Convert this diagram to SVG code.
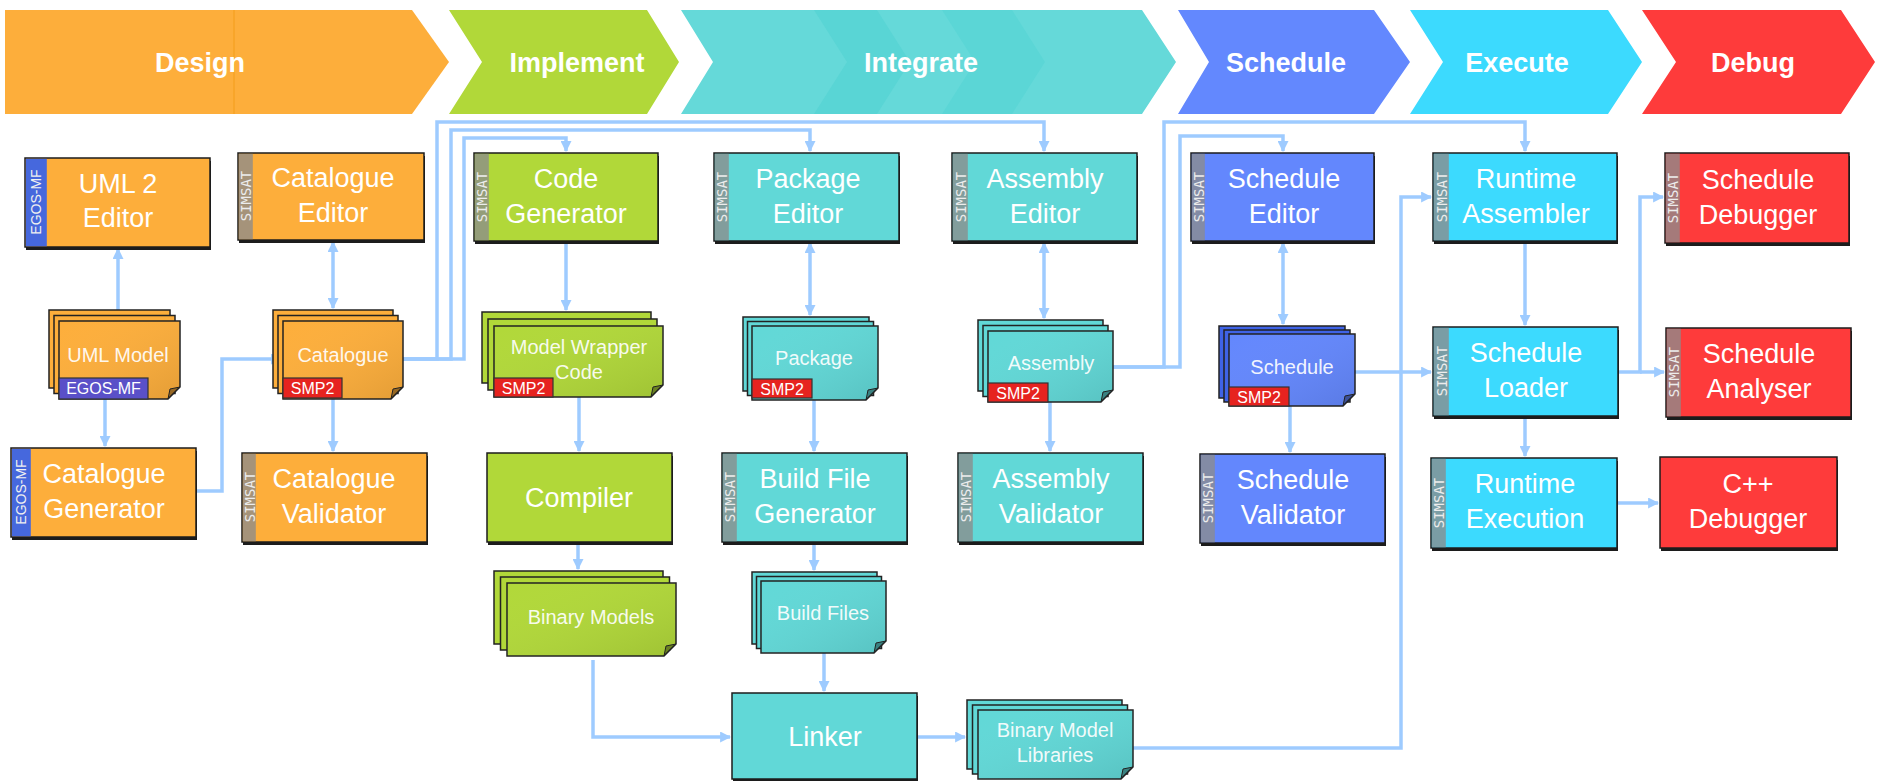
<svg xmlns="http://www.w3.org/2000/svg" width="1878" height="781" viewBox="0 0 1878 781">
<style>
.ph{font-family:"Liberation Sans",Arial,sans-serif;font-weight:bold;font-size:27px;fill:#fff;text-anchor:middle}
.box{stroke:#1c1c1c;stroke-width:1.5}
.sh{fill:#1c1c1c}
.or{fill:#FDAE3B}.li{fill:#B1D839}.te{fill:#61D8D7}.bl{fill:#6387FD}.bld{fill:#3F63E6}.cy{fill:#3CDAFE}.rd{fill:#FE3B3B}
.band{fill:#8c8c8c;fill-opacity:.78}
.egos{fill:#4668DD}
.bt{font-family:"DejaVu Sans Mono","Liberation Mono",monospace;font-size:14px;fill:#ececec;text-anchor:middle;dominant-baseline:central}
.et{font-family:"Liberation Sans",Arial,sans-serif;font-size:14px;fill:#f0f0f0;text-anchor:middle;dominant-baseline:central}
.lbl{font-family:"Liberation Sans",Arial,sans-serif;font-size:27px;fill:#fff;text-anchor:middle}
.dl{font-family:"Liberation Sans",Arial,sans-serif;font-size:20px;fill:#fff;fill-opacity:.93;text-anchor:middle}
.pg{stroke:#222;stroke-width:1.5}
.fold{fill:#000;fill-opacity:.35;stroke:#222;stroke-width:1}
.shade{fill:url(#pgGrad)}
.smp{fill:#E6231F;stroke:#333;stroke-width:1.2}
.egt{fill:#5A50C8;stroke:#333;stroke-width:1.2}
.tg{font-family:"Liberation Sans",Arial,sans-serif;font-size:16px;fill:#fff;text-anchor:middle}
.cn{fill:none;stroke:#9ECBFF;stroke-width:3.5}
</style>
<defs>
<marker id="ah" viewBox="0 0 10 10" refX="9" refY="5" markerUnits="userSpaceOnUse" markerWidth="11" markerHeight="11" orient="auto-start-reverse">
<path d="M0,0 L10,5 L0,10 z" fill="#9ECBFF"/>
</marker>
<linearGradient id="pgGrad" x1="0" y1="0" x2="1" y2="1">
<stop offset="0" stop-color="#fff" stop-opacity="0"/>
<stop offset="1" stop-color="#000" stop-opacity="0.10"/>
</linearGradient>
</defs>

<g id="phases">
<g id="phase-design">
<polygon points="5,10 412,10 449,62 412,114 5,114" fill="#FDAE3B"/>
<line x1="234" y1="10" x2="234" y2="114" stroke="#F5A021" stroke-width="1.2"/>
<text class="ph" x="200" y="72">Design</text>
</g>
<g id="phase-implement">
<polygon points="449,10 647,10 679,62 647,114 449,114 482,62" fill="#B1D839"/>
<text class="ph" x="577" y="72">Implement</text>
</g>
<g id="phase-integrate">
<polygon points="681,10 1142,10 1176,62 1142,114 681,114 713,62" fill="#65D9D9"/>
<polygon points="814,10 877,10 910,62 877,114 814,114 847,62" fill="#59D5D5"/>
<polygon points="942,10 1012,10 1045,62 1012,114 942,114 975,62" fill="#5BD6D6"/>
<text class="ph" x="921" y="72">Integrate</text>
</g>
<g id="phase-schedule">
<polygon points="1178,10 1374,10 1410,62 1374,114 1178,114 1209,62" fill="#6388FE"/>
<text class="ph" x="1286" y="72">Schedule</text>
</g>
<g id="phase-execute">
<polygon points="1410,10 1608,10 1642,62 1608,114 1410,114 1443,62" fill="#3CDAFE"/>
<text class="ph" x="1517" y="72">Execute</text>
</g>
<g id="phase-debug">
<polygon points="1642,10 1841,10 1875,62 1841,114 1642,114 1676,62" fill="#FE3B3B"/>
<text class="ph" x="1753" y="72">Debug</text>
</g>
</g>

<g id="connectors">
<path class="cn" d="M118,310 V249" marker-end="url(#ah)"/>
<path class="cn" d="M333,308 V242" marker-start="url(#ah)" marker-end="url(#ah)"/>
<path class="cn" d="M105,399 V446" marker-end="url(#ah)"/>
<path class="cn" d="M196,491 H222 V359 H281" marker-end="url(#ah)"/>
<path class="cn" d="M333,399 V451" marker-end="url(#ah)"/>
<path class="cn" d="M403,359 H464 V138 H566 V151" marker-end="url(#ah)"/>
<path class="cn" d="M403,359 H451 V130 H810 V151" marker-end="url(#ah)"/>
<path class="cn" d="M403,359 H437 V122 H1044 V151" marker-end="url(#ah)"/>
<path class="cn" d="M566,241 V310" marker-end="url(#ah)"/>
<path class="cn" d="M579,397 V451" marker-end="url(#ah)"/>
<path class="cn" d="M578,542 V569" marker-end="url(#ah)"/>
<path class="cn" d="M593,660 V737 H730" marker-end="url(#ah)"/>
<path class="cn" d="M810,243 V315" marker-start="url(#ah)" marker-end="url(#ah)"/>
<path class="cn" d="M814,400 V451" marker-end="url(#ah)"/>
<path class="cn" d="M814,542 V570" marker-end="url(#ah)"/>
<path class="cn" d="M824,653 V691" marker-end="url(#ah)"/>
<path class="cn" d="M917,737 H965" marker-end="url(#ah)"/>
<path class="cn" d="M1133,748 H1401 V197 H1431" marker-end="url(#ah)"/>
<path class="cn" d="M1044,243 V318" marker-start="url(#ah)" marker-end="url(#ah)"/>
<path class="cn" d="M1050,402 V451" marker-end="url(#ah)"/>
<path class="cn" d="M1113,367 H1180 V136 H1283 V151" marker-end="url(#ah)"/>
<path class="cn" d="M1113,367 H1164 V122 H1525 V151" marker-end="url(#ah)"/>
<path class="cn" d="M1283,243 V324" marker-start="url(#ah)" marker-end="url(#ah)"/>
<path class="cn" d="M1290,406 V452" marker-end="url(#ah)"/>
<path class="cn" d="M1355,372 H1431" marker-end="url(#ah)"/>
<path class="cn" d="M1525,241 V325" marker-end="url(#ah)"/>
<path class="cn" d="M1618,372 H1640 V197 H1663" marker-end="url(#ah)"/>
<path class="cn" d="M1640,372 H1664" marker-end="url(#ah)"/>
<path class="cn" d="M1525,416 V456" marker-end="url(#ah)"/>
<path class="cn" d="M1617,503 H1658" marker-end="url(#ah)"/>
</g>

<!-- Design column -->
<g id="uml2-editor">
<rect class="sh" x="26" y="161" width="185" height="89"/>
<rect class="box or" x="25" y="158" width="185" height="89"/>
<rect class="egos" x="25.8" y="158.8" width="21" height="87.5"/>
<text class="et" transform="translate(36,202) rotate(-90)">EGOS-MF</text>
<text class="lbl" x="118" y="193">UML 2</text>
<text class="lbl" x="118" y="227">Editor</text>
</g>
<g id="catalogue-editor">
<rect class="sh" x="239" y="156" width="186" height="87"/>
<rect class="box or" x="238" y="153" width="186" height="87"/>
<rect class="band" x="238.8" y="153.8" width="14" height="85.5"/>
<text class="bt" transform="translate(246,196) rotate(-90)">SIMSAT</text>
<text class="lbl" x="333" y="187">Catalogue</text>
<text class="lbl" x="333" y="222">Editor</text>
</g>
<g id="uml-model">
<rect class="pg or" x="49" y="310" width="121" height="78"/>
<rect class="pg or" x="54" y="315.5" width="121" height="78"/>
<path class="pg or" d="M59,321 h121 v66 l-12,12 H59 z"/>
<path class="shade" d="M59,321 h121 v66 l-12,12 H59 z"/>
<path class="fold" d="M180,387 l-12,12 l2,-10 z"/>
<text class="dl" x="118" y="362">UML Model</text>
<rect class="egt" x="59" y="378" width="89" height="21"/>
<text class="tg" x="103.5" y="394">EGOS-MF</text>
</g>
<g id="catalogue">
<rect class="pg or" x="273" y="310" width="120" height="78"/>
<rect class="pg or" x="278" y="315.5" width="120" height="78"/>
<path class="pg or" d="M283,321 h120 v66 l-12,12 H283 z"/>
<path class="shade" d="M283,321 h120 v66 l-12,12 H283 z"/>
<path class="fold" d="M403,387 l-12,12 l2,-10 z"/>
<text class="dl" x="343" y="362">Catalogue</text>
<rect class="smp" x="283" y="378" width="59" height="20"/>
<text class="tg" x="312.5" y="394">SMP2</text>
</g>
<g id="catalogue-generator">
<rect class="sh" x="12" y="451" width="185" height="89"/>
<rect class="box or" x="11" y="448" width="185" height="89"/>
<rect class="egos" x="11.8" y="448.8" width="19" height="87.5"/>
<text class="et" transform="translate(21,492) rotate(-90)">EGOS-MF</text>
<text class="lbl" x="104" y="483">Catalogue</text>
<text class="lbl" x="104" y="518">Generator</text>
</g>
<g id="catalogue-validator">
<rect class="sh" x="243" y="456" width="185" height="89"/>
<rect class="box or" x="242" y="453" width="185" height="89"/>
<rect class="band" x="242.8" y="453.8" width="13" height="87.5"/>
<text class="bt" transform="translate(249.5,497) rotate(-90)">SIMSAT</text>
<text class="lbl" x="334" y="488">Catalogue</text>
<text class="lbl" x="334" y="523">Validator</text>
</g>

<!-- Implement column -->
<g id="code-generator">
<rect class="sh" x="475" y="156" width="184" height="88"/>
<rect class="box li" x="474" y="153" width="184" height="88"/>
<rect class="band" x="474.8" y="153.8" width="14" height="86.5"/>
<text class="bt" transform="translate(482,197) rotate(-90)">SIMSAT</text>
<text class="lbl" x="566" y="188">Code</text>
<text class="lbl" x="566" y="223">Generator</text>
</g>
<g id="model-wrapper-code">
<rect class="pg li" x="482" y="312" width="169" height="71"/>
<rect class="pg li" x="488" y="319" width="169" height="71"/>
<path class="pg li" d="M494,326 h169 v59 l-12,12 H494 z"/>
<path class="shade" d="M494,326 h169 v59 l-12,12 H494 z"/>
<path class="fold" d="M663,385 l-12,12 l2,-10 z"/>
<text class="dl" x="579" y="354">Model Wrapper</text>
<text class="dl" x="579" y="379">Code</text>
<rect class="smp" x="494" y="378" width="59" height="19"/>
<text class="tg" x="523.5" y="393.5">SMP2</text>
</g>
<g id="compiler">
<rect class="sh" x="488" y="456" width="185" height="89"/>
<rect class="box li" x="487" y="453" width="185" height="89"/>
<text class="lbl" x="579" y="507">Compiler</text>
</g>
<g id="binary-models">
<rect class="pg li" x="494" y="571" width="169" height="73"/>
<rect class="pg li" x="500.5" y="577" width="169" height="73"/>
<path class="pg li" d="M507,583 h169 v61 l-12,12 H507 z"/>
<path class="shade" d="M507,583 h169 v61 l-12,12 H507 z"/>
<path class="fold" d="M676,644 l-12,12 l2,-10 z"/>
<text class="dl" x="591" y="624">Binary Models</text>
</g>

<!-- Integrate column -->
<g id="package-editor">
<rect class="sh" x="715" y="156" width="185" height="88"/>
<rect class="box te" x="714" y="153" width="185" height="88"/>
<rect class="band" x="714.8" y="153.8" width="14" height="86.5"/>
<text class="bt" transform="translate(722,197) rotate(-90)">SIMSAT</text>
<text class="lbl" x="808" y="188">Package</text>
<text class="lbl" x="808" y="223">Editor</text>
</g>
<g id="package">
<rect class="pg te" x="743" y="317" width="126" height="74"/>
<rect class="pg te" x="747.5" y="321.5" width="126" height="74"/>
<path class="pg te" d="M752,326 h126 v62 l-12,12 H752 z"/>
<path class="shade" d="M752,326 h126 v62 l-12,12 H752 z"/>
<path class="fold" d="M878,388 l-12,12 l2,-10 z"/>
<text class="dl" x="814" y="365">Package</text>
<rect class="smp" x="752" y="379" width="60" height="19"/>
<text class="tg" x="782" y="394.5">SMP2</text>
</g>
<g id="build-file-generator">
<rect class="sh" x="723" y="456" width="185" height="89"/>
<rect class="box te" x="722" y="453" width="185" height="89"/>
<rect class="band" x="722.8" y="453.8" width="14" height="87.5"/>
<text class="bt" transform="translate(730,497) rotate(-90)">SIMSAT</text>
<text class="lbl" x="815" y="488">Build File</text>
<text class="lbl" x="815" y="523">Generator</text>
</g>
<g id="build-files">
<rect class="pg te" x="752" y="572" width="125" height="72"/>
<rect class="pg te" x="756.5" y="576.5" width="125" height="72"/>
<path class="pg te" d="M761,581 h125 v60 l-12,12 H761 z"/>
<path class="shade" d="M761,581 h125 v60 l-12,12 H761 z"/>
<path class="fold" d="M886,641 l-12,12 l2,-10 z"/>
<text class="dl" x="823" y="620">Build Files</text>
</g>
<g id="linker">
<rect class="sh" x="733" y="696" width="185" height="87"/>
<rect class="box te" x="732" y="693" width="185" height="86"/>
<text class="lbl" x="825" y="746">Linker</text>
</g>
<g id="binary-model-libraries">
<rect class="pg te" x="967" y="700" width="155" height="69"/>
<rect class="pg te" x="972.5" y="705" width="155" height="69"/>
<path class="pg te" d="M978,710 h155 v57 l-12,12 H978 z"/>
<path class="shade" d="M978,710 h155 v57 l-12,12 H978 z"/>
<path class="fold" d="M1133,767 l-12,12 l2,-10 z"/>
<text class="dl" x="1055" y="737">Binary Model</text>
<text class="dl" x="1055" y="762">Libraries</text>
</g>
<g id="assembly-editor">
<rect class="sh" x="953" y="156" width="185" height="88"/>
<rect class="box te" x="952" y="153" width="185" height="88"/>
<rect class="band" x="952.8" y="153.8" width="15" height="86.5"/>
<text class="bt" transform="translate(960.5,197) rotate(-90)">SIMSAT</text>
<text class="lbl" x="1045" y="188">Assembly</text>
<text class="lbl" x="1045" y="223">Editor</text>
</g>
<g id="assembly">
<rect class="pg te" x="978" y="320" width="125" height="71"/>
<rect class="pg te" x="983" y="325.5" width="125" height="71"/>
<path class="pg te" d="M988,331 h125 v59 l-12,12 H988 z"/>
<path class="shade" d="M988,331 h125 v59 l-12,12 H988 z"/>
<path class="fold" d="M1113,390 l-12,12 l2,-10 z"/>
<text class="dl" x="1051" y="370">Assembly</text>
<rect class="smp" x="988" y="383" width="60" height="19"/>
<text class="tg" x="1018" y="398.5">SMP2</text>
</g>
<g id="assembly-validator">
<rect class="sh" x="959" y="456" width="185" height="89"/>
<rect class="box te" x="958" y="453" width="185" height="89"/>
<rect class="band" x="958.8" y="453.8" width="14" height="87.5"/>
<text class="bt" transform="translate(966,497) rotate(-90)">SIMSAT</text>
<text class="lbl" x="1051" y="488">Assembly</text>
<text class="lbl" x="1051" y="523">Validator</text>
</g>

<!-- Schedule column -->
<g id="schedule-editor">
<rect class="sh" x="1192" y="156" width="183" height="88"/>
<rect class="box bl" x="1191" y="153" width="183" height="88"/>
<rect class="band" x="1191.8" y="153.8" width="13" height="86.5"/>
<text class="bt" transform="translate(1198.5,197) rotate(-90)">SIMSAT</text>
<text class="lbl" x="1284" y="188">Schedule</text>
<text class="lbl" x="1284" y="223">Editor</text>
</g>
<g id="schedule">
<rect class="pg bld" x="1219" y="326" width="126" height="72"/>
<rect class="pg bld" x="1224" y="330" width="126" height="72"/>
<path class="pg bl" d="M1229,334 h126 v60 l-12,12 H1229 z"/>
<path class="shade" d="M1229,334 h126 v60 l-12,12 H1229 z"/>
<path class="fold" d="M1355,394 l-12,12 l2,-10 z"/>
<text class="dl" x="1292" y="374">Schedule</text>
<rect class="smp" x="1229" y="387" width="60" height="19"/>
<text class="tg" x="1259" y="402.5">SMP2</text>
</g>
<g id="schedule-validator">
<rect class="sh" x="1201" y="457" width="185" height="89"/>
<rect class="box bl" x="1200" y="454" width="185" height="89"/>
<rect class="band" x="1200.8" y="454.8" width="14" height="87.5"/>
<text class="bt" transform="translate(1208,498) rotate(-90)">SIMSAT</text>
<text class="lbl" x="1293" y="489">Schedule</text>
<text class="lbl" x="1293" y="524">Validator</text>
</g>

<!-- Execute column -->
<g id="runtime-assembler">
<rect class="sh" x="1434" y="156" width="184" height="88"/>
<rect class="box cy" x="1433" y="153" width="184" height="88"/>
<rect class="band" x="1433.8" y="153.8" width="15" height="86.5"/>
<text class="bt" transform="translate(1441.5,197) rotate(-90)">SIMSAT</text>
<text class="lbl" x="1526" y="188">Runtime</text>
<text class="lbl" x="1526" y="223">Assembler</text>
</g>
<g id="schedule-loader">
<rect class="sh" x="1434" y="330" width="185" height="89"/>
<rect class="box cy" x="1433" y="327" width="185" height="89"/>
<rect class="band" x="1433.8" y="327.8" width="15" height="87.5"/>
<text class="bt" transform="translate(1441.5,371) rotate(-90)">SIMSAT</text>
<text class="lbl" x="1526" y="362">Schedule</text>
<text class="lbl" x="1526" y="397">Loader</text>
</g>
<g id="runtime-execution">
<rect class="sh" x="1432" y="461" width="186" height="90"/>
<rect class="box cy" x="1431" y="458" width="186" height="90"/>
<rect class="band" x="1431.8" y="458.8" width="14" height="88.5"/>
<text class="bt" transform="translate(1439,503) rotate(-90)">SIMSAT</text>
<text class="lbl" x="1525" y="493">Runtime</text>
<text class="lbl" x="1525" y="528">Execution</text>
</g>

<!-- Debug column -->
<g id="schedule-debugger">
<rect class="sh" x="1666" y="156" width="184" height="90"/>
<rect class="box rd" x="1665" y="153" width="184" height="90"/>
<rect class="band" x="1665.8" y="153.8" width="14" height="88.5"/>
<text class="bt" transform="translate(1673,198) rotate(-90)">SIMSAT</text>
<text class="lbl" x="1758" y="189">Schedule</text>
<text class="lbl" x="1758" y="224">Debugger</text>
</g>
<g id="schedule-analyser">
<rect class="sh" x="1667" y="331" width="185" height="89"/>
<rect class="box rd" x="1666" y="328" width="185" height="89"/>
<rect class="band" x="1666.8" y="328.8" width="14" height="87.5"/>
<text class="bt" transform="translate(1674,372) rotate(-90)">SIMSAT</text>
<text class="lbl" x="1759" y="363">Schedule</text>
<text class="lbl" x="1759" y="398">Analyser</text>
</g>
<g id="cpp-debugger">
<rect class="sh" x="1661" y="460" width="177" height="91"/>
<rect class="box rd" x="1660" y="457" width="177" height="91"/>
<text class="lbl" x="1748" y="493">C++</text>
<text class="lbl" x="1748" y="528">Debugger</text>
</g>
</svg>
